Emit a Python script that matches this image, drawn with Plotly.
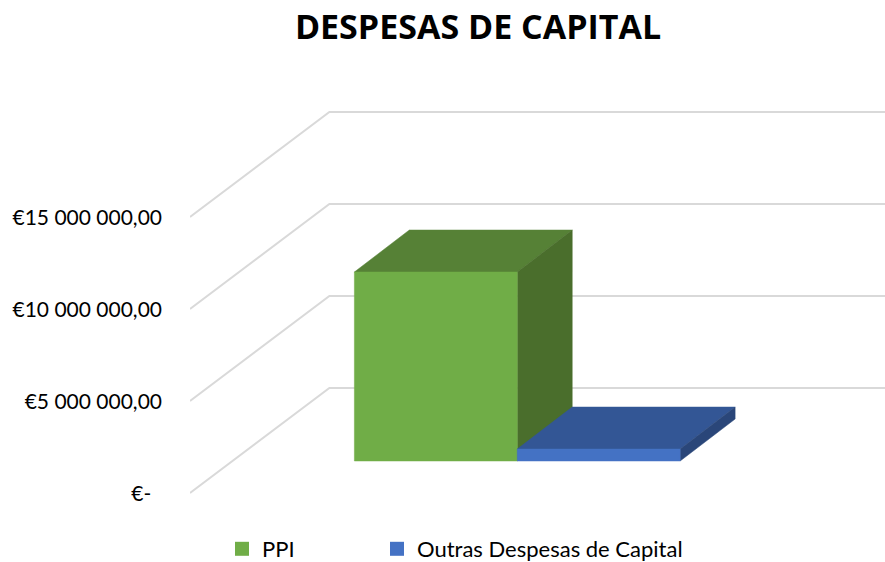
import plotly.graph_objects as go

# ---- data ----
series_names = ["PPI", "Outras Despesas de Capital"]
series_values = [10270000, 650000]
tick_values = [0, 5000000, 10000000, 15000000]
tick_labels = ["€-\u00a0\u00a0", "€5 000 000,00", "€10 000 000,00", "€15 000 000,00"]
title_text = "DESPESAS DE CAPITAL"

# ---- styles ----
front_colors = ["#70AD47", "#4472C4"]
top_colors = ["#568136", "#335695"]
side_colors = ["#4A6E2C", "#2A4679"]
grid_color = "#D9D9D9"
W, H = 885, 562
FONT = "Lato, Carlito, sans-serif"

# ---- oblique projection: one bar slot = 163 px, 5M = 92 px ----
PX_PER_SLOT = 163.0
PX_PER_EUR = 92.0 / 5000000
PLOT_L = 189.5


def lift(px):
    return px / PX_PER_EUR


def slot(px):
    return px / PX_PER_SLOT


BAR_DX, BAR_DY = slot(55), lift(42)       # depth of a bar
FRONT_DY = lift(32)                       # bar front plane above axis front edge
WALL_DX, WALL_DY = slot(139.5), lift(105) # back wall offset
AXIS_X0 = slot(PLOT_L - 354)              # left floor corner (slot 0 starts at 354 px)
X_RANGE = [AXIS_X0, slot(W - 354)]
Y_BOTTOM = lift(493 - H)
Y_TOP = lift(493)
LABEL_NUDGE = lift(1)                     # tick text sits just off the grid start

fig = go.Figure()

# gridlines: oblique side wall + back wall
for v in tick_values:
    fig.add_trace(go.Scatter(
        x=[AXIS_X0, AXIS_X0 + WALL_DX, X_RANGE[1]],
        y=[v, v + WALL_DY, v + WALL_DY],
        mode="lines", line=dict(color=grid_color, width=2),
        showlegend=False, hoverinfo="skip"))


def face(xs, ys, color, name):
    fig.add_trace(go.Scatter(
        x=xs, y=ys, mode="lines", fill="toself", fillcolor=color,
        line=dict(color=color, width=0.5), showlegend=False, name=name,
        hoverinfo="skip"))


for i, (name, val) in enumerate(zip(series_names, series_values)):
    x0, x1 = i, i + 1
    b = FRONT_DY
    t = FRONT_DY + val
    face([x0, x1, x1 + BAR_DX, x0 + BAR_DX, x0],
         [t, t, t + BAR_DY, t + BAR_DY, t], top_colors[i], name)
    face([x1, x1 + BAR_DX, x1 + BAR_DX, x1, x1],
         [b, b + BAR_DY, t + BAR_DY, t, b], side_colors[i], name)
    face([x0, x1, x1, x0, x0], [b, b, t, t, b], front_colors[i], name)

# legend entries: each series has its own legend box so it can be placed freely
legend_ids = ["legend", "legend2"]
legend_lefts = [222, 377]
for i, name in enumerate(series_names):
    fig.add_trace(go.Scatter(
        x=[None], y=[None], mode="markers", name=name, legend=legend_ids[i],
        showlegend=True,
        marker=dict(symbol="square", size=14, color=front_colors[i])))


def legend_box(left):
    return dict(orientation="h", xref="container", yref="container",
                x=left / W, xanchor="left", y=1 - 549 / H, yanchor="middle",
                font=dict(family=FONT, size=22), bgcolor="rgba(0,0,0,0)",
                itemclick=False, itemdoubleclick=False)


fig.update_layout(
    width=W, height=H,
    margin=dict(l=PLOT_L, r=0, t=0, b=0, autoexpand=False),
    paper_bgcolor="white", plot_bgcolor="white",
    font=dict(family=FONT, size=21, color="#000000"),
    title=dict(text="<b>" + title_text + "</b>", xref="container", yref="container",
               x=478 / W, xanchor="center", y=1 - 27 / H, yanchor="middle",
               font=dict(family="'Open Sans', sans-serif", size=34, color="#000000")),
    xaxis=dict(range=X_RANGE, visible=False, fixedrange=True),
    yaxis=dict(range=[Y_BOTTOM, Y_TOP], tickmode="array",
               tickvals=[v - LABEL_NUDGE for v in tick_values],
               ticktext=tick_labels, showgrid=False, zeroline=False, showline=False,
               ticks="", ticklabelstandoff=27, fixedrange=True),
    legend=legend_box(legend_lefts[0]),
    legend2=legend_box(legend_lefts[1]),
)

fig.write_html("out.html", config={"displayModeBar": False},
               post_script="document.body.style.margin='0';")
